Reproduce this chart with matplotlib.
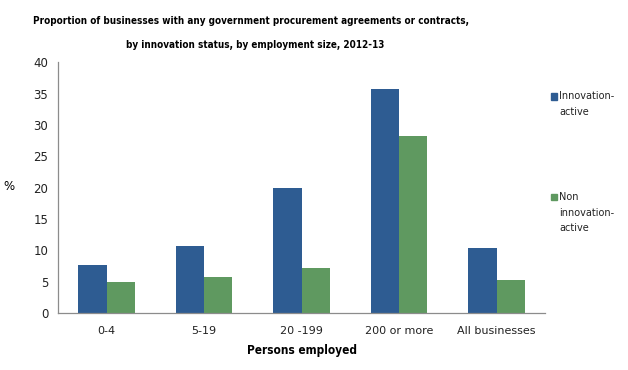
import matplotlib.pyplot as plt
import numpy as np
from matplotlib.patches import Rectangle

categories = ["0-4", "5-19", "20 -199", "200 or more", "All businesses"]
innovation_active = [7.7, 10.7, 19.9, 35.7, 10.4]
non_innovation_active = [5.0, 5.7, 7.2, 28.2, 5.3]
series_labels = ["Innovation-\nactive", "Non\ninnovation-\nactive"]

BLUE = "#2E5C92"
GREEN = "#5F9960"
AXIS_GREY = "#8C8C8C"

plt.rcParams["font.family"] = ["DejaVu Sans"]

fig = plt.figure(figsize=(6.28, 3.70), dpi=100)
ax = fig.add_axes([0.0924, 0.154, 0.776, 0.678])

x = np.arange(len(categories))
w = 0.29
ax.bar(x - w / 2, innovation_active, w, color=BLUE, zorder=2)
ax.bar(x + w / 2, non_innovation_active, w, color=GREEN, zorder=2)

ax.set_xlim(-0.5, len(categories) - 0.5)
ax.set_ylim(0, 40)
ax.set_yticks(range(0, 41, 5))
ax.set_xticks(x)
ax.set_xticklabels(categories)
ax.tick_params(axis="both", length=0, labelsize=8, colors="#222222")
ax.tick_params(axis="x", pad=9)
ax.tick_params(axis="y", labelsize=8.5, pad=7)

for side in ["top", "right"]:
    ax.spines[side].set_visible(False)
for side in ["left", "bottom"]:
    ax.spines[side].set_color(AXIS_GREY)
    ax.spines[side].set_linewidth(0.9)

ax.set_xlabel("Persons employed", fontsize=8.5, fontweight="bold",
              fontstretch="condensed", labelpad=6)
fig.text(3 / 628, 1 - 186 / 370, "%", fontsize=8.5, va="center", ha="left")

title_font = dict(fontsize=7.1, fontweight="bold", fontstretch="condensed",
                  ha="center", va="center")
fig.text(251 / 628, 1 - 21 / 370,
         "Proportion of businesses with any government procurement agreements or contracts,",
         **title_font)
fig.text(255 / 628, 1 - 45 / 370,
         "by innovation status, by employment size, 2012-13", **title_font)

# legend drawn by hand so the swatch sits on the first text line
legend_colors = [BLUE, GREEN]
legend_tops = [1 - 93 / 370, 1 - 194 / 370]
for col, lab, top in zip(legend_colors, series_labels, legend_tops):
    fig.add_artist(Rectangle((551 / 628, top - 6.5 / 370), 6 / 628, 6 / 370,
                             transform=fig.transFigure, color=col))
    fig.text(559 / 628, top + 2 / 370, lab, fontsize=7, va="top", ha="left",
             color="#222222", linespacing=1.7)

fig.savefig("out.png", dpi=100)
